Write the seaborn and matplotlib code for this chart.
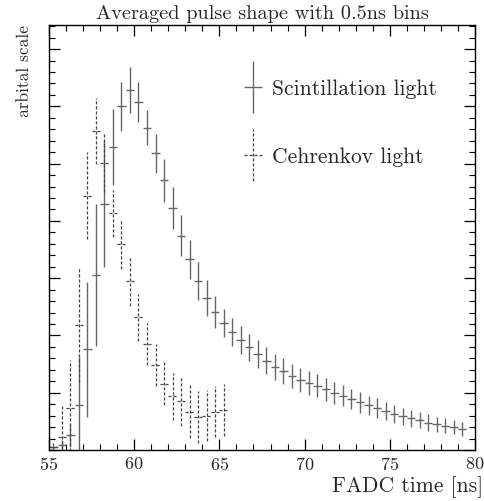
import numpy as np
import matplotlib
matplotlib.use("Agg")
import matplotlib.pyplot as plt
import seaborn as sns
from matplotlib.container import ErrorbarContainer
from matplotlib.legend_handler import HandlerErrorbar
from matplotlib.ticker import MultipleLocator, NullFormatter

# ---- data ----
scint_t = [55.25, 55.75, 56.25, 56.75, 57.25, 57.75, 58.25, 58.75, 59.25, 59.75,
           60.25, 60.75, 61.25, 61.75, 62.25, 62.75, 63.25, 63.75, 64.25, 64.75,
           65.25, 65.75, 66.25, 66.75, 67.25, 67.75, 68.25, 68.75, 69.25, 69.75,
           70.25, 70.75, 71.25, 71.75, 72.25, 72.75, 73.25, 73.75, 74.25, 74.75,
           75.25, 75.75, 76.25, 76.75, 77.25, 77.75, 78.25, 78.75, 79.25]
scint_val = [0.05, 0.09, 0.26, 0.79, 1.76, 3.05, 4.29, 5.29, 6.00, 6.28,
             6.07, 5.63, 5.18, 4.71, 4.22, 3.74, 3.33, 2.95, 2.65, 2.41,
             2.22, 2.06, 1.92, 1.79, 1.675, 1.56, 1.45, 1.38, 1.30, 1.23,
             1.17, 1.12, 1.06, 1.00, 0.95, 0.89, 0.83, 0.78, 0.73, 0.68,
             0.63, 0.59, 0.55, 0.52, 0.48, 0.45, 0.42, 0.40, 0.37]
scint_err = [0.04, 0.09, 0.20, 0.84, 1.18, 1.24, 1.10, 0.66, 0.43, 0.40,
             0.35, 0.31, 0.34, 0.375, 0.37, 0.36, 0.34, 0.33, 0.31, 0.28,
             0.25, 0.25, 0.25, 0.24, 0.24, 0.23, 0.22, 0.22, 0.21, 0.21,
             0.21, 0.20, 0.20, 0.19, 0.19, 0.18, 0.18, 0.17, 0.17, 0.16,
             0.16, 0.15, 0.15, 0.14, 0.14, 0.13, 0.13, 0.12, 0.12]

cher_t = [55.25, 55.75, 56.25, 56.75, 57.25, 57.75, 58.25, 58.75, 59.25, 59.75,
          60.25, 60.75, 61.25, 61.75, 62.25, 62.75, 63.25, 63.75, 64.25, 64.75, 65.25]
cher_val = [0.06, 0.22, 0.73, 2.18, 4.44, 5.57, 5.01, 4.13, 3.60, 2.95,
            2.32, 1.85, 1.48, 1.16, 0.94, 0.855, 0.67, 0.58, 0.60, 0.67, 0.70]
cher_err = [0.06, 0.55, 0.84, 0.99, 0.76, 0.58, 0.51, 0.41, 0.44, 0.44,
            0.41, 0.37, 0.37, 0.37, 0.41, 0.43, 0.46, 0.45, 0.45, 0.45, 0.45]

bin_half = 0.25
labels = ["Scintillation light", "Cehrenkov light"]
title = "Averaged pulse shape with 0.5ns bins"
xlabel = "FADC time [ns]"
ylabel = "arbital scale"
xticks = [55, 60, 65, 70, 75, 80]

# ---- style ----
sns.set_theme(style="ticks")
plt.rcParams["font.family"] = ["cmr10", "DejaVu Serif"]
plt.rcParams["mathtext.fontset"] = "cm"
plt.rcParams["axes.formatter.use_mathtext"] = True
plt.rcParams["axes.unicode_minus"] = False

fig = plt.figure(figsize=(4.85, 5.01), dpi=100)
ax = fig.add_axes([49 / 485, 51 / 501, 426 / 485, 425 / 501])

col = "#666666"
e1 = ax.errorbar(scint_t, scint_val, yerr=scint_err, xerr=bin_half, fmt="none",
                 ecolor=col, elinewidth=1.0, capsize=0, label=labels[0])
e2 = ax.errorbar(cher_t, cher_val, yerr=cher_err, xerr=bin_half, fmt="none",
                 ecolor="#444444", elinewidth=0.9, capsize=0, label=labels[1])
for lc in e2.lines[2]:
    lc.set_linestyle((0, (2.5, 1.5)))

ax.set_xlim(55, 80)
ax.set_ylim(0, 7.42)
ax.set_xticks(xticks)
ax.xaxis.set_minor_locator(MultipleLocator(1))
ax.yaxis.set_major_locator(MultipleLocator(1))
ax.yaxis.set_minor_locator(MultipleLocator(0.2))
ax.yaxis.set_major_formatter(NullFormatter())
ax.tick_params(which="both", direction="in", top=True, right=True, color="black")
ax.tick_params(which="major", length=8, width=0.9, labelsize=13, pad=4)
ax.tick_params(which="minor", length=4, width=0.8)
for s in ax.spines.values():
    s.set_color("black")
    s.set_linewidth(1.0)

ax.set_title(title, fontsize=14.6, pad=4)
ax.set_xlabel(xlabel, fontsize=15.5, ha="right", va="center")
ax.xaxis.set_label_coords(1.0 + 8 / 426, -37 / 425)
ax.set_ylabel(ylabel, fontsize=12.5, loc="top", labelpad=8)

leg = ax.legend(handler_map={ErrorbarContainer: HandlerErrorbar(xerr_size=0.4, yerr_size=1.2)},
                loc="upper left", bbox_to_anchor=(0.408, 0.918), frameon=False,
                fontsize=15.5, labelspacing=2.25, handlelength=1.0, handletextpad=0.37)

fig.savefig("out.png", dpi=100)
